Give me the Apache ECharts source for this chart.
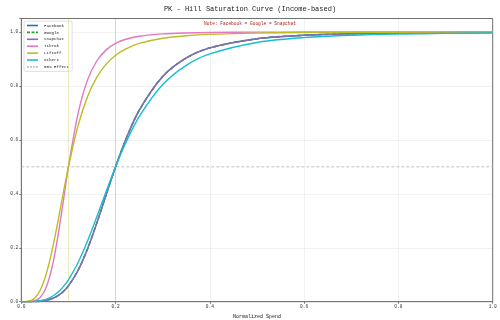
<!DOCTYPE html>
<html>
<head>
<meta charset="utf-8">
<script src="https://cdn.jsdelivr.net/npm/echarts@6/dist/echarts.min.js"></script>
<style>html,body{margin:0;padding:0;background:#fff}#c{width:500px;height:320px}</style>
</head>
<body>
<div id="c"></div>
<script>
const spend = [0, 0.02, 0.03, 0.04, 0.05, 0.06, 0.07, 0.08, 0.09, 0.1, 0.12, 0.14, 0.16, 0.18, 0.2, 0.22, 0.25, 0.3, 0.35, 0.4, 0.5, 0.6, 0.7, 0.8, 0.9, 1.0];
const facebook = [0, 0.0001, 0.0005, 0.0016, 0.0039, 0.008, 0.0148, 0.025, 0.0394, 0.0588, 0.1147, 0.1936, 0.2906, 0.3962, 0.5, 0.5942, 0.7094, 0.8351, 0.9037, 0.9412, 0.975, 0.9878, 0.9934, 0.9961, 0.9976, 0.9984];
const google = [0, 0.0001, 0.0005, 0.0016, 0.0039, 0.008, 0.0148, 0.025, 0.0394, 0.0588, 0.1147, 0.1936, 0.2906, 0.3962, 0.5, 0.5942, 0.7094, 0.8351, 0.9037, 0.9412, 0.975, 0.9878, 0.9934, 0.9961, 0.9976, 0.9984];
const snapchat = [0, 0.0001, 0.0005, 0.0016, 0.0039, 0.008, 0.0148, 0.025, 0.0394, 0.0588, 0.1147, 0.1936, 0.2906, 0.3962, 0.5, 0.5942, 0.7094, 0.8351, 0.9037, 0.9412, 0.975, 0.9878, 0.9934, 0.9961, 0.9976, 0.9984];
const tiktok = [0, 0.0007, 0.0044, 0.0159, 0.0424, 0.0912, 0.1672, 0.2682, 0.3836, 0.5, 0.6944, 0.8197, 0.8924, 0.9337, 0.9577, 0.972, 0.9841, 0.9929, 0.9965, 0.9981, 0.9993, 0.9997, 0.9998, 0.9999, 0.9999, 1.0];
const liftoff = [0, 0.0042, 0.0164, 0.0425, 0.0865, 0.1497, 0.2292, 0.3189, 0.4114, 0.5, 0.6502, 0.7584, 0.8317, 0.8807, 0.9135, 0.9359, 0.9575, 0.9767, 0.9861, 0.9911, 0.9958, 0.9977, 0.9987, 0.9992, 0.9994, 0.9996];
const others = [0, 0.0003, 0.0013, 0.0036, 0.0078, 0.0146, 0.0248, 0.0389, 0.0576, 0.0812, 0.1433, 0.223, 0.3141, 0.4088, 0.5, 0.5826, 0.6859, 0.8052, 0.8765, 0.9188, 0.9611, 0.9791, 0.9877, 0.9923, 0.9948, 0.9964];
const channels = ['Facebook', 'Google', 'Snapchat', 'TikTok', 'Liftoff', 'others'];
const halfSat = [0.2, 0.2, 0.2, 0.1, 0.1, 0.2];
const refLevel = [0.5];
const xTicks = [0, 0.2, 0.4, 0.6, 0.8, 1.0];
const yTicks = [0, 0.2, 0.4, 0.6, 0.8, 1.0];

const values = [facebook, google, snapchat, tiktok, liftoff, others];
const colors = ['#1f77b4', '#2ca02c', '#9467bd', '#e377c2', '#bcbd22', '#17becf'];
const FONT = 'Liberation Mono';
const DASH_ICON = 'path://M0,0H3V1H0Z M4.5,0H7.5V1H4.5Z M9,0H11V1H9Z';
const DOT_ICON = 'path://M0,0H2V1H0Z M3,0H5V1H3Z M6,0H8V1H6Z M9,0H11V1H9Z';

// the vertical half-saturation marker is drawn by the last channel sharing each value
const lastOfK = halfSat.map((k, i) => halfSat.lastIndexOf(k) === i);

const series = channels.map((name, i) => ({
  name: name,
  type: 'line',
  smooth: 0.3,
  symbol: 'none',
  data: spend.map((x, j) => [x, values[i][j]]),
  lineStyle: {
    color: colors[i],
    width: i === 1 ? 1.6 : 1.4,
    type: i === 1 ? [4, 3] : 'solid',
    opacity: i === 2 ? 0.85 : 1
  },
  itemStyle: { color: colors[i] },
  z: 3 + i,
  markLine: lastOfK[i] ? {
    silent: true,
    symbol: 'none',
    label: { show: false },
    lineStyle: { color: colors[i], opacity: 0.3, width: 1, type: 'solid' },
    data: [{ xAxis: halfSat[i] }]
  } : undefined
}));
series.push({
  name: '50% Effect',
  type: 'line',
  symbol: 'none',
  data: [[0, refLevel[0]], [1, refLevel[0]]],
  lineStyle: { color: '#b0b0b0', width: 0.8, type: [3, 2] },
  itemStyle: { color: '#b0b0b0' },
  z: 2
});

const legendData = channels.map((n, i) => ({ name: n, icon: i === 1 ? DASH_ICON : 'rect',
  itemStyle: { color: colors[i], opacity: 1, borderWidth: 0 } }));
legendData.push({ name: '50% Effect', icon: DOT_ICON,
  itemStyle: { color: '#c4c4c4', opacity: 1, borderWidth: 0 } });

const chart = echarts.init(document.getElementById('c'), null, { renderer: 'canvas' });
chart.setOption({
  animation: false,
  backgroundColor: '#ffffff',
  title: [
    { text: 'PK - Hill Saturation Curve (Income-based)', left: 'center', top: 1,
      textStyle: { fontFamily: FONT, fontSize: 7, fontWeight: 'normal', color: '#222' } },
    { text: 'Note: Facebook = Google = Snapchat', left: 'center', top: 16,
      textStyle: { fontFamily: FONT, fontSize: 4.5, fontWeight: 'normal', color: '#a8201a' } }
  ],
  legend: {
    orient: 'vertical', left: 24, top: 21,
    data: legendData,
    symbolKeepAspect: false,
    itemWidth: 11, itemHeight: 1.6, itemGap: 2.9,
    backgroundColor: '#ffffff', borderColor: '#d8d8d8', borderWidth: 0.8, borderRadius: 2,
    padding: [2.5, 3, 2.5, 3],
    textStyle: { fontFamily: FONT, fontSize: 4.2, color: '#222', padding: [0, 0, 0, 1] }
  },
  grid: { left: 21.3, right: 7.3, top: 18.5, bottom: 18.3, containLabel: false, outerBoundsMode: 'none',
    show: true, borderColor: '#777', borderWidth: 1, backgroundColor: 'transparent' },
  xAxis: {
    type: 'value', min: 0, max: 1, interval: 0.2,
    name: 'Normalized Spend', nameLocation: 'middle', nameGap: 10.5,
    nameTextStyle: { fontFamily: FONT, fontSize: 5, color: '#222' },
    axisLine: { show: true, lineStyle: { color: '#777', width: 1 } },
    axisTick: { show: true, length: 2, lineStyle: { color: '#777' } },
    axisLabel: { fontFamily: FONT, fontSize: 4.5, color: '#333', margin: 3,
      formatter: v => xTicks.some(t => Math.abs(t - v) < 1e-6) ? v.toFixed(1) : '' },
    splitLine: { show: true, lineStyle: { color: 'rgba(0,0,0,0.05)', width: 1 } }
  },
  yAxis: {
    type: 'value', min: 0, max: 1.05, interval: 0.2,
    name: 'Effect Value', nameLocation: 'middle', nameGap: 14, nameRotate: 90,
    nameTextStyle: { fontFamily: FONT, fontSize: 4.5, color: '#222' },
    axisLine: { show: true, lineStyle: { color: '#777', width: 1 } },
    axisTick: { show: true, length: 2, lineStyle: { color: '#777' } },
    axisLabel: { fontFamily: FONT, fontSize: 4.5, color: '#333', margin: 3,
      formatter: v => yTicks.some(t => Math.abs(t - v) < 1e-6) ? v.toFixed(1) : '' },
    splitLine: { show: true, lineStyle: { color: 'rgba(0,0,0,0.05)', width: 1 } }
  },
  series: series
});
</script>
</body>
</html>
